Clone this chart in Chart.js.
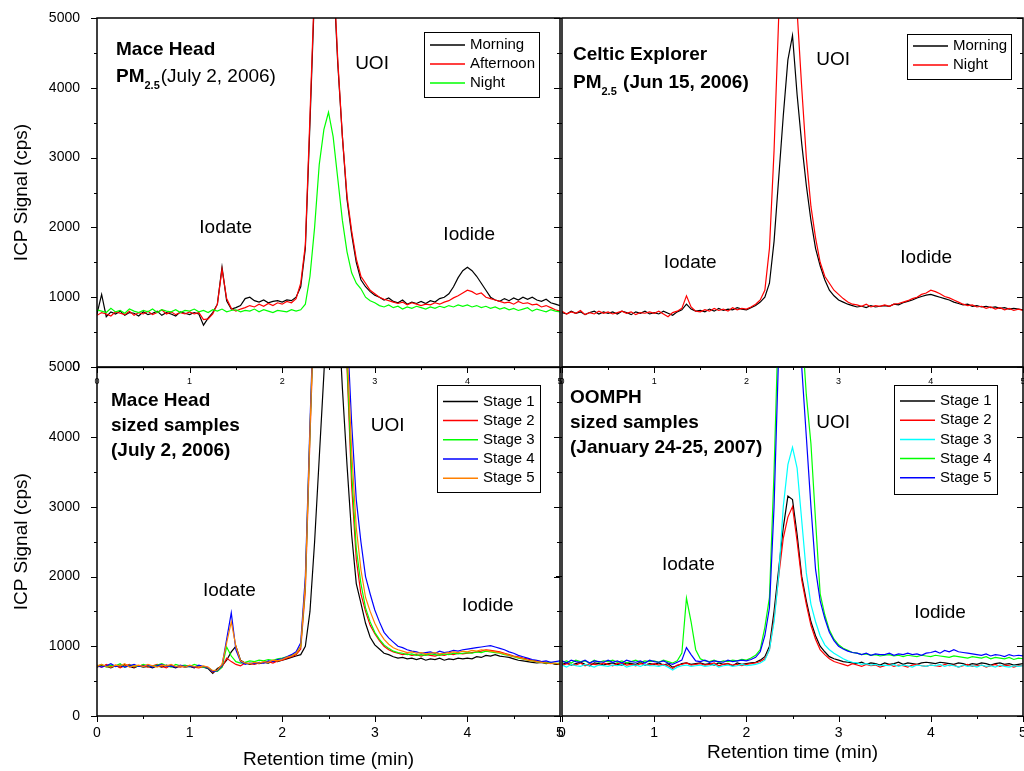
<!DOCTYPE html>
<html>
<head>
<meta charset="utf-8">
<script src="https://cdn.jsdelivr.net/npm/chart.js@4"></script>
<style>
  html, body { margin: 0; padding: 0; background: #fff; overflow: hidden; }
  #page { position: relative; width: 1024px; height: 771px; overflow: hidden; }
  #page canvas { position: absolute; }
</style>
</head>
<body>
<div id="page">
  <canvas id="mace-pm" width="575" height="395" style="left:0;top:0"></canvas>
  <canvas id="celtic-pm" width="495" height="395" style="left:545px;top:0"></canvas>
  <canvas id="mace-sized" width="575" height="421" style="left:0;top:350px"></canvas>
  <canvas id="oomph-sized" width="495" height="421" style="left:545px;top:350px"></canvas>
</div>
<script>
	/** retention time (min) **/
	const times = [
		0, 0.05, 0.1, 0.15, 0.2, 0.25, 0.3, 0.35, 0.4, 0.45,
		0.5, 0.55, 0.6, 0.65, 0.7, 0.75, 0.8, 0.85, 0.9, 0.95,
		1, 1.05, 1.1, 1.15, 1.2, 1.25, 1.3, 1.35, 1.4, 1.45,
		1.5, 1.55, 1.6, 1.65, 1.7, 1.75, 1.8, 1.85, 1.9, 1.95,
		2, 2.05, 2.1, 2.15, 2.2, 2.25, 2.3, 2.35, 2.4, 2.45,
		2.5, 2.55, 2.6, 2.65, 2.7, 2.75, 2.8, 2.85, 2.9, 2.95,
		3, 3.05, 3.1, 3.15, 3.2, 3.25, 3.3, 3.35, 3.4, 3.45,
		3.5, 3.55, 3.6, 3.65, 3.7, 3.75, 3.8, 3.85, 3.9, 3.95,
		4, 4.05, 4.1, 4.15, 4.2, 4.25, 4.3, 4.35, 4.4, 4.45,
		4.5, 4.55, 4.6, 4.65, 4.7, 4.75, 4.8, 4.85, 4.9, 4.95,
		5
	];
	const xTicks = [0, 1, 2, 3, 4, 5];
	const yTicks = [0, 1000, 2000, 3000, 4000, 5000];

	/** Mace Head PM2.5 (July 2, 2006) **/
	const maceLabels = ['Morning', 'Afternoon', 'Night'];
	const maceMorning = [
		760, 1040, 720, 790, 760, 800, 740, 780, 770, 730,
		790, 750, 770, 800, 740, 780, 760, 730, 790, 770,
		750, 780, 760, 600, 700, 780, 900, 1430, 950, 830,
		850, 880, 980, 1000, 950, 930, 960, 920, 940, 950,
		930, 960, 950, 1000, 1150, 1700, 3500, 5400, 6500, 6900,
		6600, 5700, 4350, 3300, 2400, 1900, 1500, 1250, 1150, 1080,
		1030, 1000, 960, 990, 940, 920, 960, 900, 930, 910,
		940, 910, 950, 930, 980, 1000, 1050, 1150, 1280, 1380,
		1430, 1380, 1300, 1200, 1100, 1000, 960, 940, 980, 950,
		990, 960, 1000, 970, 1000, 960, 940, 970, 920, 900,
		880
	];
	const maceAfternoon = [
		740, 780, 760, 730, 790, 770, 750, 800, 740, 780,
		760, 800, 750, 780, 820, 760, 790, 750, 780, 760,
		790, 760, 780, 680, 690, 760, 900, 1400, 980, 840,
		800, 830, 850, 880, 860, 900, 870, 910, 880, 920,
		900, 940, 920, 980, 1200, 1750, 3600, 5500, 6700, 7000,
		6700, 5800, 4400, 3300, 2450, 1950, 1550, 1300, 1200, 1100,
		1050, 1000, 970, 950, 930, 910, 930, 890, 920, 900,
		880, 900, 890, 920, 900, 930, 950, 990, 1020, 1060,
		1100, 1080, 1040, 1060, 1000, 980, 960, 940, 920, 930,
		900, 940, 910, 920, 890, 900, 860, 880, 850, 820,
		800
	];
	const maceNight = [
		820, 800, 780, 840, 790, 810, 770, 830, 800, 780,
		810, 790, 830, 780, 820, 800, 790, 820, 780, 810,
		800, 830, 790, 810, 780, 820, 800, 830, 790, 810,
		820, 790, 810, 800, 830, 790, 820, 800, 780, 810,
		800, 790, 820, 800, 820, 900, 1300, 2000, 2900, 3400,
		3650, 3300, 2700, 2100, 1650, 1350, 1200, 1120, 1000, 950,
		920, 880, 860, 890, 850, 870, 830, 860, 840, 870,
		850, 830, 860, 840, 870, 850, 880, 860, 890, 870,
		890, 860, 880, 850, 870, 840, 860, 830, 850, 820,
		840, 810, 830, 850, 800, 830, 810, 790, 820, 800,
		790
	];

	/** Celtic Explorer PM2.5 (Jun 15, 2006) **/
	const celticLabels = ['Morning', 'Night'];
	const celticMorning = [
		780, 760, 800, 770, 790, 750, 780, 800, 760, 790,
		770, 790, 760, 800, 780, 750, 790, 770, 800, 760,
		780, 760, 800, 770, 740, 790, 820, 900, 830, 800,
		810, 790, 830, 800, 840, 810, 830, 820, 850, 830,
		820, 850, 880, 930, 1000, 1200, 1800, 2700, 3600, 4400,
		4750, 3900, 3200, 2600, 2100, 1700, 1450, 1250, 1100, 1020,
		960, 930, 900, 880, 860, 870, 850, 880, 860, 870,
		880, 870, 900, 890, 920, 940, 960, 990, 1010, 1030,
		1040, 1020, 1000, 980, 960, 930, 910, 890, 900, 870,
		880, 860, 870, 850, 860, 840, 850, 830, 840, 830,
		820
	];
	const celticNight = [
		800, 760, 790, 770, 810, 750, 780, 760, 800, 770,
		790, 760, 780, 800, 770, 790, 750, 780, 770, 790,
		770, 800, 760, 720, 780, 800, 840, 1020, 860, 800,
		790, 820, 800, 840, 810, 830, 800, 850, 820, 840,
		830, 860, 900, 960, 1100, 1700, 3100, 5000, 6000, 6300,
		5900, 5100, 4000, 3000, 2300, 1850, 1500, 1300, 1200, 1100,
		1040, 980, 930, 900, 890, 870, 900, 860, 880, 870,
		890, 870, 900, 910, 930, 950, 980, 1000, 1040, 1060,
		1100, 1080, 1050, 1010, 990, 960, 930, 900, 880, 890,
		860, 870, 840, 860, 830, 850, 820, 840, 810, 830,
		810
	];

	/** Mace Head sized samples (July 2, 2006) **/
	const stageLabels = ['Stage 1', 'Stage 2', 'Stage 3', 'Stage 4', 'Stage 5'];
	const sizedStage1 = [
		700, 730, 710, 690, 720, 700, 740, 710, 690, 720,
		700, 710, 690, 720, 700, 730, 710, 690, 720, 700,
		710, 690, 720, 700, 680, 610, 680, 720, 800, 920,
		1000, 800, 760, 740, 760, 750, 770, 760, 790, 780,
		800, 820, 840, 860, 880, 1000, 1500, 2500, 3700, 4900,
		6200, 6800, 6000, 4700, 3600, 2600, 1900, 1620, 1330, 1130,
		1020, 960, 900, 880, 850, 830, 840, 820, 830, 810,
		830, 800, 820, 810, 830, 800, 820, 810, 830, 820,
		830, 820, 850, 840, 870, 860, 880, 860, 850, 840,
		820, 800, 790, 780, 770, 760, 770, 750, 760, 740,
		740
	];
	const sizedStage2 = [
		720, 700, 740, 710, 730, 690, 720, 740, 700, 720,
		730, 700, 720, 740, 710, 690, 730, 710, 700, 720,
		720, 700, 690, 710, 700, 630, 650, 700, 830, 780,
		740, 720, 760, 750, 740, 760, 770, 780, 760, 790,
		800, 830, 850, 880, 960, 1800, 4000, 6000, 7000, 7300,
		7200, 6900, 6400, 5900, 5000, 3300, 2250, 1750, 1500, 1300,
		1180, 1080, 1000, 950, 920, 900, 880, 890, 870, 880,
		860, 880, 870, 860, 880, 870, 890, 880, 900, 890,
		900, 910, 920, 930, 950, 940, 930, 920, 900, 880,
		860, 850, 830, 820, 800, 790, 780, 770, 760, 750,
		750
	];
	const sizedStage3 = [
		710, 740, 700, 730, 720, 750, 700, 730, 720, 710,
		740, 720, 710, 730, 750, 720, 700, 740, 720, 730,
		710, 740, 720, 700, 690, 650, 640, 700, 990, 860,
		780, 760, 770, 790, 780, 800, 790, 810, 800, 820,
		830, 850, 870, 900, 1000, 1900, 4100, 6100, 7100, 7400,
		7300, 7000, 6500, 6000, 5100, 3500, 2400, 1900, 1550, 1350,
		1200, 1100, 1020, 970, 930, 910, 900, 880, 890, 870,
		880, 870, 890, 880, 870, 890, 880, 900, 890, 900,
		910, 900, 920, 910, 930, 920, 910, 900, 880, 870,
		850, 830, 820, 800, 790, 780, 770, 760, 770, 750,
		760
	];
	const sizedStage4 = [
		730, 700, 720, 750, 710, 730, 700, 720, 740, 710,
		720, 730, 700, 720, 740, 710, 720, 700, 730, 710,
		720, 700, 730, 710, 690, 640, 650, 720, 1100, 1480,
		950, 780, 740, 760, 750, 770, 760, 790, 780, 810,
		820, 850, 880, 920, 1050, 2000, 4200, 6200, 7200, 7500,
		7500, 7300, 6900, 6400, 5600, 4200, 3100, 2500, 2000, 1750,
		1520, 1350, 1200, 1120, 1060, 1000, 980, 950, 930, 920,
		900, 910, 920, 900, 930, 910, 920, 940, 930, 950,
		960, 970, 980, 990, 1000, 1010, 990, 970, 950, 920,
		900, 870, 850, 830, 810, 800, 780, 790, 770, 780,
		790
	];
	const sizedStage5 = [
		720, 740, 710, 700, 730, 720, 750, 700, 720, 730,
		710, 740, 720, 700, 730, 720, 740, 710, 720, 700,
		730, 710, 700, 720, 700, 650, 660, 740, 1050, 1350,
		1000, 790, 760, 750, 770, 760, 780, 770, 800, 790,
		810, 840, 860, 900, 1000, 1900, 4100, 6100, 7100, 7400,
		7400, 7200, 6800, 6200, 5300, 3800, 2700, 2100, 1700, 1500,
		1330, 1200, 1100, 1030, 980, 950, 930, 910, 920, 900,
		910, 890, 900, 910, 890, 900, 910, 920, 910, 930,
		920, 940, 930, 950, 940, 930, 920, 910, 890, 870,
		850, 840, 820, 800, 790, 780, 770, 760, 750, 760,
		740
	];

	/** OOMPH sized samples (January 24-25, 2007) **/
	const oomphStage1 = [
		740, 760, 730, 750, 770, 740, 720, 760, 750, 730,
		750, 760, 740, 730, 760, 750, 740, 770, 730, 750,
		740, 760, 730, 750, 700, 720, 750, 760, 740, 750,
		760, 740, 750, 730, 760, 740, 750, 720, 760, 740,
		750, 760, 770, 800, 850, 1000, 1500, 2100, 2700, 3150,
		3100, 2600, 2000, 1650, 1350, 1150, 1000, 920, 850, 820,
		800, 780, 770, 760, 750, 770, 740, 760, 750, 730,
		760, 740, 750, 770, 740, 760, 750, 740, 760, 770,
		760, 750, 770, 760, 750, 740, 760, 750, 730, 750,
		740, 760, 750, 730, 750, 760, 740, 750, 730, 740,
		750
	];
	const oomphStage2 = [
		720, 750, 740, 730, 760, 720, 750, 740, 730, 760,
		740, 720, 750, 760, 730, 740, 720, 750, 740, 730,
		750, 730, 740, 720, 680, 730, 740, 760, 730, 740,
		750, 730, 740, 760, 720, 740, 750, 730, 740, 720,
		740, 750, 760, 780, 820, 950, 1400, 2000, 2550, 2850,
		3000, 2500, 1950, 1600, 1300, 1100, 950, 880, 820, 780,
		760, 740, 720, 750, 730, 710, 740, 720, 730, 700,
		720, 740, 710, 730, 720, 700, 730, 740, 720, 710,
		730, 720, 710, 740, 720, 730, 700, 720, 740, 710,
		720, 730, 700, 720, 740, 710, 730, 720, 700, 720,
		720
	];
	const oomphStage3 = [
		730, 700, 740, 720, 710, 740, 720, 700, 730, 720,
		710, 730, 720, 740, 700, 720, 730, 710, 740, 720,
		720, 710, 730, 700, 660, 700, 720, 730, 710, 720,
		730, 710, 720, 740, 700, 720, 730, 710, 720, 740,
		720, 730, 740, 760, 800, 950, 1350, 2000, 3000, 3600,
		3850, 3550, 2800, 2050, 1600, 1350, 1150, 1020, 950, 900,
		860, 820, 790, 770, 760, 740, 750, 730, 740, 720,
		730, 720, 740, 710, 730, 720, 700, 730, 720, 710,
		730, 720, 740, 710, 730, 720, 700, 730, 710, 720,
		700, 730, 710, 720, 700, 730, 710, 700, 720, 710,
		720
	];
	const oomphStage4 = [
		770, 790, 760, 800, 780, 790, 760, 800, 770, 790,
		780, 800, 770, 790, 760, 780, 800, 770, 790, 780,
		790, 770, 800, 780, 760, 790, 900, 1690, 1350, 950,
		820, 790, 780, 800, 770, 790, 780, 800, 790, 810,
		800, 830, 870, 950, 1270, 1700, 3500, 5800, 7000, 7600,
		7700, 7000, 5600, 4600, 3900, 2800, 1750, 1450, 1230, 1100,
		1020, 970, 940, 910, 900, 880, 890, 870, 880, 860,
		870, 880, 860, 870, 850, 870, 860, 850, 870, 860,
		850, 870, 860, 850, 840, 860, 850, 840, 830, 850,
		840, 830, 850, 820, 840, 830, 820, 840, 810, 830,
		820
	];
	const oomphStage5 = [
		790, 760, 800, 780, 770, 800, 760, 790, 780, 770,
		800, 770, 790, 760, 800, 780, 770, 790, 760, 800,
		780, 770, 790, 760, 740, 770, 800, 980, 880, 790,
		780, 800, 770, 790, 780, 770, 800, 780, 790, 800,
		790, 810, 840, 920, 1150, 1550, 3000, 5200, 6700, 7400,
		7500, 6800, 5000, 4000, 3000, 2100, 1650, 1400, 1200, 1080,
		1000, 960, 930, 910, 900, 880, 900, 870, 890, 880,
		880, 900, 870, 890, 880, 900, 880, 890, 870, 900,
		910, 930, 900, 940, 920, 950, 920, 910, 900, 890,
		880, 870, 890, 860, 880, 870, 850, 880, 860, 870,
		860
	];

	/** 공통 부분 **/
	const FONT = "'Liberation Sans', Arial, Helvetica, sans-serif";
	Chart.defaults.font.family = FONT;
	Chart.defaults.color = '#000';

	let colors3 = {color: ['#000000', '#ff0000', '#00ff00']};
	let sizedColors = {color: ['#000000', '#ff0000', '#00ff00', '#0000ff', '#ff8000']};
	let oomphColors = {color: ['#000000', '#ff0000', '#00ffff', '#00ff00', '#0000ff']};

	/** 패널별 글자, 범례 (chartArea 기준 위치) **/
	const panelExtras = {
		'mace-pm': {
			title: [
				{x: 19, y: 32, parts: [{t: 'Mace Head', b: true}]},
				{x: 19, y: 59, parts: [{t: 'PM', b: true}, {t: '2.5', b: true, s: true}, {t: '(July 2, 2006)'}]}
			],
			notes: [{t: 'UOI', x: 2.97, y: 4340}, {t: 'Iodate', x: 1.39, y: 2000}, {t: 'Iodide', x: 4.02, y: 1900}],
			legend: {right: 21, top: 14, w: 115, h: 65, first: 13, gap: 19}
		},
		'celtic-pm': {
			title: [
				{x: 11, y: 37, parts: [{t: 'Celtic Explorer', b: true}]},
				{x: 11, y: 65, parts: [{t: 'PM', b: true}, {t: '2.5', b: true, s: true}, {t: ' (Jun 15, 2006)', b: true}]}
			],
			notes: [{t: 'UOI', x: 2.94, y: 4400}, {t: 'Iodate', x: 1.39, y: 1490}, {t: 'Iodide', x: 3.95, y: 1560}],
			legend: {right: 12, top: 16, w: 104, h: 45, first: 12, gap: 19}
		},
		'mace-sized': {
			title: [
				{x: 14, y: 33, parts: [{t: 'Mace Head', b: true}]},
				{x: 14, y: 58, parts: [{t: 'sized samples', b: true}]},
				{x: 14, y: 83, parts: [{t: '(July 2, 2006)', b: true}]}
			],
			notes: [{t: 'UOI', x: 3.14, y: 4170}, {t: 'Iodate', x: 1.43, y: 1790}, {t: 'Iodide', x: 4.22, y: 1580}],
			legend: {right: 20, top: 18, w: 103, h: 107, first: 16, gap: 19.2}
		},
		'oomph-sized': {
			title: [
				{x: 8, y: 31, parts: [{t: 'OOMPH', b: true}]},
				{x: 8, y: 56, parts: [{t: 'sized samples', b: true}]},
				{x: 8, y: 81, parts: [{t: '(January 24-25, 2007)', b: true}]}
			],
			notes: [{t: 'UOI', x: 2.94, y: 4200}, {t: 'Iodate', x: 1.37, y: 2160}, {t: 'Iodide', x: 4.10, y: 1480}],
			legend: {right: 26, top: 18, w: 103, h: 109, first: 16, gap: 19.2}
		}
	};

	function drawRich(ctx, x, y, parts) {
		let cx = x;
		parts.forEach(function(p) {
			let size = p.s ? 11 : 19;
			ctx.font = (p.b ? 'bold ' : '') + size + 'px ' + FONT;
			ctx.fillText(p.t, cx, p.s ? y + 9 : y);
			cx += ctx.measureText(p.t).width + (p.s ? 1 : 0);
		});
	}

	/** 테두리, 눈금, 글자, 범례 **/
	const framePlugin = {
		id: 'frame',
		afterDraw(chart) {
			const ctx = chart.ctx;
			const a = chart.chartArea;
			const xs = chart.scales.x;
			const ys = chart.scales.y;
			const extra = panelExtras[chart.canvas.id];
			ctx.save();
			ctx.strokeStyle = '#000';
			ctx.lineWidth = 1.5;
			ctx.strokeRect(a.left, a.top, a.right - a.left, a.bottom - a.top);

			ctx.lineWidth = 1;
			ctx.beginPath();
			for (let k = 0; k <= 10; k++) {
				let py = Math.round(ys.getPixelForValue(k * 500)) + 0.5;
				let len = k % 2 === 0 ? 6 : 3;
				ctx.moveTo(a.left, py); ctx.lineTo(a.left - len, py);
				ctx.moveTo(a.right, py); ctx.lineTo(a.right - len, py);
				let px = Math.round(xs.getPixelForValue(k / 2)) + 0.5;
				ctx.moveTo(px, a.bottom); ctx.lineTo(px, a.bottom + len);
			}
			ctx.stroke();

			ctx.fillStyle = '#000';
			ctx.textBaseline = 'middle';
			ctx.textAlign = 'left';
			extra.title.forEach(function(line) {
				drawRich(ctx, a.left + line.x, a.top + line.y, line.parts);
			});

			ctx.textAlign = 'center';
			ctx.font = '19px ' + FONT;
			extra.notes.forEach(function(n) {
				ctx.fillText(n.t, xs.getPixelForValue(n.x), ys.getPixelForValue(n.y));
			});

			let lg = extra.legend;
			let bx = a.right - lg.right - lg.w;
			let by = a.top + lg.top;
			ctx.lineWidth = 1;
			ctx.strokeRect(Math.round(bx) + 0.5, Math.round(by) + 0.5, lg.w, lg.h);
			ctx.textAlign = 'left';
			ctx.font = '15px ' + FONT;
			chart.data.datasets.forEach(function(ds, i) {
				let ry = by + lg.first + i * lg.gap;
				ctx.strokeStyle = ds.borderColor;
				ctx.lineWidth = 1.5;
				ctx.beginPath();
				ctx.moveTo(bx + 6, ry);
				ctx.lineTo(bx + 41, ry);
				ctx.stroke();
				ctx.fillText(ds.label, bx + 46, ry);
			});
			ctx.restore();
		}
	};

	function makeDatasets(labels, series, colors) {
		return series.map(function(values, i) {
			return {
				label: labels[i],
				data: times.map(function(t, j) { return {x: t, y: values[j]}; }),
				borderColor: colors[i],
				borderWidth: 1.2,
				pointRadius: 0,
				tension: 0,
				fill: false,
				order: series.length - i
			};
		});
	}

	function makePanel(id, datasets, cfg) {
		return new Chart(document.getElementById(id), {
			type: 'line',
			data: {datasets: datasets},
			options: {
				responsive: false,
				animation: false,
				devicePixelRatio: 1,
				events: [],
				layout: {padding: cfg.padding},
				plugins: {legend: {display: false}, tooltip: {enabled: false}},
				scales: {
					x: {
						type: 'linear', min: 0, max: 5,
						grid: {display: false}, border: {display: false},
						afterBuildTicks: function(s) { s.ticks = xTicks.map(function(v) { return {value: v}; }); },
						ticks: {font: {size: cfg.xFont}, padding: cfg.xPad, maxRotation: 0, autoSkip: false,
							callback: function(v) { return String(v); }},
						title: {display: cfg.xTitle, text: 'Retention time (min)', font: {size: 19},
							padding: {top: 0, bottom: cfg.xTitlePad}},
						afterFit: function(s) { s.height = cfg.xHeight; }
					},
					y: {
						type: 'linear', min: 0, max: 5000,
						grid: {display: false}, border: {display: false},
						afterBuildTicks: function(s) { s.ticks = yTicks.map(function(v) { return {value: v}; }); },
						ticks: {display: cfg.yLabels, font: {size: 14}, padding: 9,
							callback: function(v) { return String(v); }},
						title: {display: cfg.yLabels, text: 'ICP Signal (cps)', font: {size: 19},
							padding: {top: 10, bottom: 0}},
						afterFit: function(s) { s.width = cfg.yWidth; }
					}
				}
			},
			plugins: [framePlugin]
		});
	}

	/** 상단 패널 **/
	let macePmChart = makePanel('mace-pm',
		makeDatasets(maceLabels, [maceMorning, maceAfternoon, maceNight], colors3.color),
		{padding: {left: 0, top: 18, right: 15, bottom: 0}, xFont: 9, xPad: 1, xTitle: false, xTitlePad: 0,
			xHeight: 28, yLabels: true, yWidth: 97});

	let celticPmChart = makePanel('celtic-pm',
		makeDatasets(celticLabels, [celticMorning, celticNight], colors3.color),
		{padding: {left: 0, top: 18, right: 17, bottom: 0}, xFont: 9, xPad: 1, xTitle: false, xTitlePad: 0,
			xHeight: 28, yLabels: false, yWidth: 17});

	/** 하단 패널 **/
	let maceSizedChart = makePanel('mace-sized',
		makeDatasets(stageLabels, [sizedStage1, sizedStage2, sizedStage3, sizedStage4, sizedStage5], sizedColors.color),
		{padding: {left: 0, top: 17, right: 15, bottom: 0}, xFont: 14, xPad: 1, xTitle: true, xTitlePad: 0,
			xHeight: 55, yLabels: true, yWidth: 97});

	let oomphSizedChart = makePanel('oomph-sized',
		makeDatasets(stageLabels, [oomphStage1, oomphStage2, oomphStage3, oomphStage4, oomphStage5], oomphColors.color),
		{padding: {left: 0, top: 17, right: 17, bottom: 0}, xFont: 14, xPad: 1, xTitle: true, xTitlePad: 7,
			xHeight: 55, yLabels: false, yWidth: 17});
</script>
</body>
</html>
